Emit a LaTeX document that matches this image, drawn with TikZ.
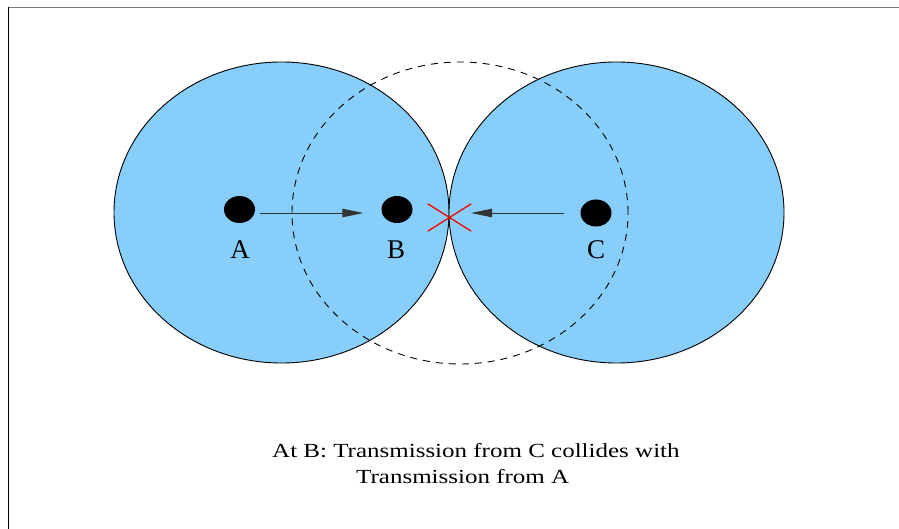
\documentclass[tikz,border=0pt]{standalone}
\usepackage{fontspec}
\setmainfont{Liberation Serif}
\usetikzlibrary{shapes.geometric,arrows.meta}
\definecolor{rangeblue}{RGB}{135,206,250}
\definecolor{framegray}{RGB}{120,120,120}
\tikzset{
  zone/.style={ellipse, draw=black, line width=0.9pt, fill=rangeblue, minimum width=335pt, minimum height=301pt, inner sep=0pt},
  dashedzone/.style={ellipse, draw=black, line width=0.9pt, dash pattern=on 7pt off 6pt, minimum width=336pt, minimum height=302pt, inner sep=0pt},
  station/.style={ellipse, fill=black, minimum width=31pt, minimum height=27pt, inner sep=0pt},
  lbl/.style={font=\fontsize{27}{30}\selectfont, inner sep=0pt},
  msg/.style={draw=black!80, line width=0.9pt, -{Triangle[length=21pt,width=8.5pt]}},
  crossline/.style={draw=red, line width=1.3pt},
  capt/.style={font=\fontsize{20}{24}\selectfont, inner sep=0pt, anchor=base west}
}
\begin{document}
\begin{tikzpicture}[x=1pt,y=-1pt]
\useasboundingbox (0,0) rectangle (899,529);
% frame
\draw[framegray, line width=1.4pt] (8,7.5) -- (899,7.5);
\draw[black, line width=1.5pt] (8.5,7.5) -- (8.5,529);
% ranges
\node[zone] (rA) at (281.5,212.5) {};
\node[zone] (rC) at (616.5,212.5) {};
\node[dashedzone] (rB) at (460,213) {};
% stations
\node[station] (A) at (239.5,209.5) {};
\node[station] (B) at (397,209.5) {};
\node[station] (C) at (596,213) {};
\node[lbl] (la) at (240,250) {A};
\node[lbl] (lb) at (396,250) {B};
\node[lbl] (lc) at (596,250) {C};
% collision mark
\node[minimum width=43pt, minimum height=27pt, inner sep=0pt] (X) at (449.5,217.5) {};
\draw[crossline] (X.north west) -- (X.south east);
\draw[crossline] (X.south west) -- (X.north east);
% transmissions
\draw[msg] ([xshift=5pt,yshift=-3.5pt]A.east) -- ([xshift=-18pt,yshift=-3.5pt]B.west);
\draw[msg] ([xshift=-16pt]C.west) -- ([yshift=4.5pt]X.east);
% caption
\node[capt] (t1) at (272,457) {\scalebox{1.25}[1]{At B: Transmission from C collides with}};
\node[capt] (t2) at (356,483) {\scalebox{1.25}[1]{Transmission from A}};
\end{tikzpicture}
\end{document}
